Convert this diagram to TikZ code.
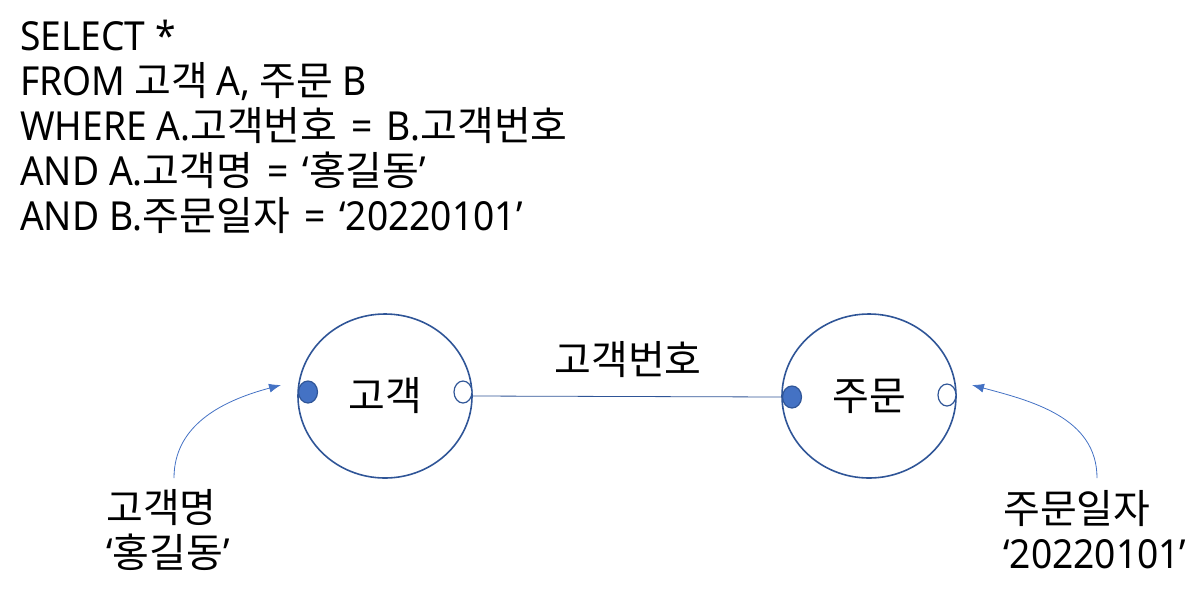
\documentclass[tikz,border=0pt]{standalone}
\usepackage{fontspec}
\setmainfont{Noto Sans CJK KR}
\newfontfamily\narrowlat[FakeStretch=0.93]{Noto Sans}
\newcommand{\lat}[1]{{\narrowlat #1}}
\newcommand{\eqs}{\hspace{14pt}\lat{=}\hspace{14pt}}
\usetikzlibrary{arrows.meta,positioning,shapes.geometric}
\definecolor{rimblue}{HTML}{2F5597}
\definecolor{dotblue}{HTML}{4472C4}

\begin{document}
\begin{tikzpicture}[
            x=1pt, y=-1pt,
            font=\fontsize{40}{45}\selectfont,
            entity/.style={draw=rimblue, line width=1.6pt, ellipse, minimum width=174pt, minimum height=164pt, inner sep=0pt},
            keydot/.style={draw=rimblue, line width=1.2pt, fill=dotblue, ellipse, minimum width=19pt, minimum height=22pt, inner sep=0pt},
            opendot/.style={draw=rimblue, line width=1.2pt, fill=white, ellipse, minimum width=18pt, minimum height=22pt, inner sep=0pt},
            cond/.style={align=left, inner sep=0pt},
            arrow/.style={-{Latex[length=12pt, width=9pt]}, dotblue, line width=0.8pt}
        ]
            \useasboundingbox (0,0) rectangle (1204,590);

            \node[cond, anchor=north west] (query) at (20,20) {\lat{SELECT *}\\
                \lat{FROM} 고객 \lat{A,} 주문 \lat{B}\\
                \lat{WHERE A.}고객번호\eqs\lat{B.}고객번호\\
                \lat{AND A.}고객명\eqs\lat{‘}홍길동\lat{’}\\
                \lat{AND B.}주문일자\eqs\lat{‘20220101’}};

            \node[entity] (cust) at (385,396) {};
            \node[entity] (order) at (869,396) {};
            \node at (385,396) {고객};
            \node at (869,396) {주문};

            \node[keydot] (custin) at (308,392) {};
            \node[opendot] (custout) at (463,392) {};
            \node[keydot] (orderin) at (792,397) {};
            \node[opendot] (orderout) at (947,395) {};

            \draw[rimblue, line width=0.8pt] (cust.east) -- (orderin.west);
            \node (joinkey) at (628,360) {고객번호};

            \node[cond, anchor=west] (custcond) at (106,530) {고객명\\\lat{‘}홍길동\lat{’}};
            \node[cond, anchor=west] (ordercond) at (1003,530) {주문일자\\\lat{‘20220101’}};

            \coordinate (custfoot) at (174,478);
            \coordinate (orderfoot) at (1097,478);
            \coordinate (custtip) at (281,385);
            \coordinate (ordertip) at (972,385);
            \draw[arrow] (custfoot) to[out=90, in=195] (custtip);
            \draw[arrow] (orderfoot) to[out=90, in=-15] (ordertip);
        \end{tikzpicture}
\end{document}
